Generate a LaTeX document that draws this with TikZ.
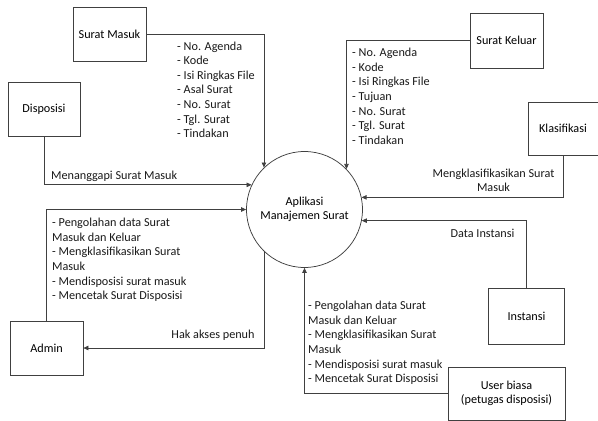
\documentclass[tikz,border=0pt]{standalone}
\usepackage{fontspec}
\setmainfont{Carlito}
\usetikzlibrary{arrows.meta}
\begin{document}
\begin{tikzpicture}[x=1pt,y=-1pt,
  font=\fontsize{12.2}{14.6}\selectfont,
  entity/.style={draw=black!75, line width=0.75pt, inner sep=0pt, align=center},
  proc/.style={draw=black!75, line width=0.75pt, circle, minimum size=116pt, inner sep=0pt, align=center},
  flow/.style={draw=black!75, line width=0.75pt, -{Triangle[length=5pt,width=4.5pt]}},
  lbl/.style={inner sep=0pt, align=left, text=black!90},
  clbl/.style={inner sep=0pt, align=center, text=black!90}]
\useasboundingbox (0,0) rectangle (598,421);

\node[proc] (c) at (304.5,209.5) {Aplikasi\\Manajemen Surat};

\node[entity, minimum width=73pt, minimum height=54pt] (sm) at (109.5,34) {Surat Masuk};
\node[entity, minimum width=72pt, minimum height=54pt] (disp) at (44,109) {Disposisi};
\node[entity, minimum width=73pt, minimum height=54pt] (admin) at (46.5,348) {Admin};
\node[entity, minimum width=73pt, minimum height=55pt] (sk) at (506.5,40.5) {Surat Keluar};
\node[entity, minimum width=70pt, minimum height=53pt] (kl) at (563,128.5) {Klasifikasi};
\node[entity, minimum width=76pt, minimum height=56pt] (inst) at (526.5,316) {Instansi};
\node[entity, minimum width=117pt, minimum height=53pt] (ub) at (506.5,393.5) {User biasa\\(petugas disposisi)};

% flows
\draw[flow] (sm.east) -| (c.134.3);
\draw[flow] (disp.south) |- (c.155);
\draw[flow] (admin.north) |- (c.west);
\draw[flow] (c.226) |- (admin.east);
\draw[flow] (sk.west) -| (c.44.3);
\draw[flow] (kl.south) |- (c.12.4);
\draw[flow] (inst.north) |- (c.-11.4);
\draw[flow] (ub.west) -| (c.south);

% labels
\node[lbl, anchor=north west] (lsm) at (177,41.5) {- No. Agenda\\- Kode\\- Isi Ringkas File\\- Asal Surat\\- No. Surat\\- Tgl. Surat\\- Tindakan};
\node[lbl, anchor=north west] (lsk) at (352,48) {- No. Agenda\\- Kode\\- Isi Ringkas File\\- Tujuan\\- No. Surat\\- Tgl. Surat\\- Tindakan};
\node[lbl, anchor=west] (ldisp) at (51,176) {Menanggapi Surat Masuk};
\node[clbl] (lkl) at (493.5,180.5) {Mengklasifikasikan Surat\\Masuk};
\node[lbl, anchor=north west] (ladm) at (52,218) {- Pengolahan data Surat\\Masuk dan Keluar\\- Mengklasifikasikan Surat\\Masuk\\- Mendisposisi surat masuk\\- Mencetak Surat Disposisi};
\node[clbl] (lhak) at (213,335) {Hak akses penuh};
\node[clbl] (linst) at (482.5,233) {Data Instansi};
\node[lbl, anchor=north west] (lub) at (308,301) {- Pengolahan data Surat\\Masuk dan Keluar\\- Mengklasifikasikan Surat\\Masuk\\- Mendisposisi surat masuk\\- Mencetak Surat Disposisi};
\end{tikzpicture}
\end{document}
